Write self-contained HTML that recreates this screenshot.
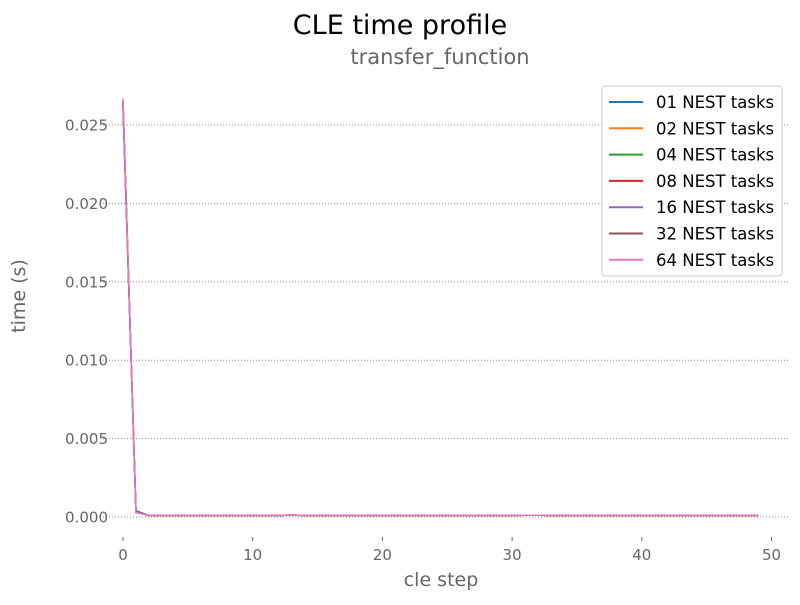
<!DOCTYPE html>
<html><head><meta charset="utf-8"><style>
body{margin:0;background:#fff;font-family:"Liberation Sans","DejaVu Sans",sans-serif}
svg text{font-family:"DejaVu Sans","Liberation Sans",sans-serif}
</style></head><body>
<svg id="chart" width="800" height="600" xmlns="http://www.w3.org/2000/svg">
<text x="400" y="34" text-anchor="middle" font-size="27" fill="#000">CLE time profile</text>
<text x="440" y="64" text-anchor="middle" font-size="21" fill="#666">transfer_function</text>
<g id="grid"></g><g id="xt"></g><g id="yt"></g><g id="series"></g>
<text x="441" y="586" text-anchor="middle" font-size="19" fill="#666">cle step</text>
<text transform="translate(25,296) rotate(-90)" text-anchor="middle" font-size="19" fill="#666">time (s)</text>
<g id="legend"></g>
</svg>
<script>
const names=["01 NEST tasks","02 NEST tasks","04 NEST tasks","08 NEST tasks","16 NEST tasks","32 NEST tasks","64 NEST tasks"];
const colors=["#1f77b4","#ff7f0e","#2ca02c","#d62728","#9467bd","#8c564b","#e377c2"];
const xTicks=[0,10,20,30,40,50];
const yTicks=[0,0.005,0.010,0.015,0.020,0.025];
const yLabels=["0.000","0.005","0.010","0.015","0.020","0.025"];
const base=[0.0001,0.0001,0.0001,0.0001,0.0001,0.0001,0.0001,0.0001,0.0001,0.0001,0.0001,0.00012,0.0001,0.0001,0.0001,0.0001,0.00011,0.0001,0.0001,0.0001,0.0001,0.0001,0.0001,0.0001,0.0001,0.00011,0.0001,0.0001,0.0001,0.00011,0.00011,0.0001,0.0001,0.0001,0.0001,0.0001,0.0001,0.0001,0.0001,0.0001,0.0001,0.0001,0.00011,0.0001,0.0001,0.0001,0.0001,0.0001];
const s01=[0.0262,0.0004].concat(base);
const s02=[0.0263,0.0003].concat(base);
const s04=[0.0264,0.0003].concat(base);
const s08=[0.0264,0.0003].concat(base);
const s16=[0.0265,0.0003].concat(base);
const s32=[0.0265,0.0003].concat(base);
const s64=[0.0267,0.0003].concat(base);
const series=[s01,s02,s04,s08,s16,s32,s64];
const NS="http://www.w3.org/2000/svg";
const X=v=>123+v*12.97, Y=v=>517-v*15680;
function mk(t,a,p){const e=document.createElementNS(NS,t);for(const k in a)e.setAttribute(k,a[k]);p.appendChild(e);return e;}
const grid=document.getElementById('grid'),yt=document.getElementById('yt'),xt=document.getElementById('xt');
yTicks.forEach((v,i)=>{
 const l=mk('line',{x1:100,x2:790,y1:Y(v),y2:Y(v),stroke:'#888','stroke-width':1,'stroke-dasharray':'1,2'},grid);
 
 
 const t=mk('text',{x:108,y:Y(v)+5.5,'text-anchor':'end','font-size':15,fill:'#666'},yt);t.textContent=yLabels[i];
 
 
});
xTicks.forEach(v=>{
 const l=mk('line',{x1:X(v),x2:X(v),y1:537,y2:541,stroke:'#666'},xt);
 
 
 const t=mk('text',{x:X(v),y:560,'text-anchor':'middle','font-size':15,fill:'#666'},xt);t.textContent=v;
 
 
});
const sg=document.getElementById('series');
series.forEach((s,i)=>{
 const p=mk('polyline',{points:s.map((v,j)=>X(j)+','+Y(v)).join(' '),fill:'none',stroke:colors[i],'stroke-width':1.5},sg);
 
 
});
const lg=document.getElementById('legend');
mk('rect',{x:602,y:86,width:180,height:190,rx:3,fill:'#fff',stroke:'#ccc'},lg);
names.forEach((n,i)=>{
 const y=102+i*26.3;
 const g=mk('g',{},lg);
 
 
 mk('line',{x1:609,x2:643,y1:y,y2:y,stroke:colors[i],'stroke-width':2},g);
 const t=mk('text',{x:656,y:y+6,'font-size':16.5,fill:'#000'},g);t.textContent=n;
});
</script>
</body></html>
